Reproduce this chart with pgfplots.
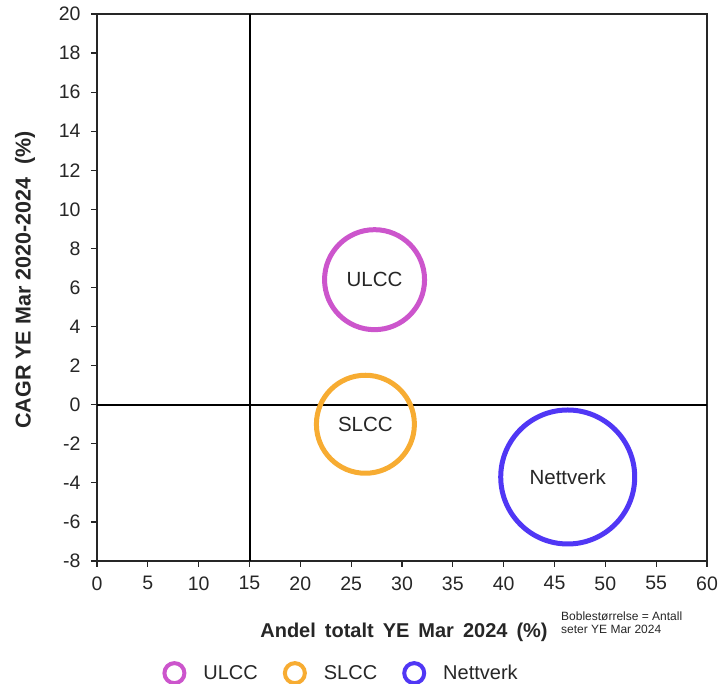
\documentclass[border=0pt]{standalone}
\usepackage{pgfplots}
\pgfplotsset{compat=1.18}
\usepackage{fontspec}
\setmainfont{Liberation Sans}
\definecolor{ulcc}{HTML}{CC55CC}
\definecolor{slcc}{HTML}{F7AC32}
\definecolor{nett}{HTML}{5037F5}
\definecolor{txt}{HTML}{262626}
\begin{document}
\begin{tikzpicture}[x=1pt,y=1pt]
\useasboundingbox (0,0) rectangle (722,684);
\begin{axis}[
  at={(97pt,123pt)}, anchor=south west,
  scale only axis, width=610pt, height=547pt,
  xmin=0, xmax=60, ymin=-8, ymax=20,
  xtick={0,5,...,60}, ytick={-8,-6,...,20},
  xtick pos=bottom, ytick pos=left,
  tick align=outside, major tick length=6pt,
  axis line style={line width=1.8pt, color=black!85},
  tick style={line width=1.2pt, color=black!85},
  /pgf/number format/assume math mode=true,
  tick label style={font=\fontsize{19.5}{22}\selectfont, text=txt},
  xticklabel style={yshift=-6pt},
  yticklabel style={xshift=-7pt},
  clip=false,
  legend columns=3,
  legend style={draw=none, at={(axis description cs:0.102,-0.205)}, anchor=west,
    font=\fontsize{20}{22}\selectfont, text=txt,
    /tikz/every odd column/.append style={column sep=0pt},
    /tikz/every even column/.append style={column sep=23pt}},
  legend image code/.code={\path[draw=none, fill=none] (0pt,0pt) -- (39pt,0pt); \draw[#1, line width=4pt, fill=none] (12pt,0pt) circle (10pt);},
]
\draw[line width=2pt, black] (axis cs:15,-8) -- (axis cs:15,20);
\draw[line width=1.8pt, black] (axis cs:0,0) -- (axis cs:60,0);
\addplot[only marks, mark=o, mark size=50pt, line width=5pt, color=ulcc] coordinates {(27.3,6.4)};
\addlegendentry{ULCC}
\addplot[only marks, mark=o, mark size=49pt, line width=5pt, color=slcc] coordinates {(26.4,-1.0)};
\addlegendentry{SLCC}
\addplot[only marks, mark=o, mark size=67pt, line width=5pt, color=nett] coordinates {(46.3,-3.7)};
\addlegendentry{Nettverk}
\node[font=\fontsize{20.5}{22}\selectfont, text=txt] at (axis cs:27.3,6.4) {ULCC};
\node[font=\fontsize{20.5}{22}\selectfont, text=txt] at (axis cs:26.4,-1.0) {SLCC};
\node[font=\fontsize{20.5}{22}\selectfont, text=txt] at (axis cs:46.3,-3.7) {Nettverk};
\end{axis}
\node[font=\bfseries\fontsize{20}{22}\selectfont, text=txt] at (404,52) {Andel\hspace{0.45em}totalt\hspace{0.45em}YE\hspace{0.45em}Mar\hspace{0.45em}2024\hspace{0.45em}(\%)};
\node[font=\bfseries\fontsize{21.5}{22}\selectfont, text=txt, rotate=90] at (25,404) {CAGR YE Mar 2020-2024\hspace{0.6em}(\%)};
\node[font=\fontsize{12}{13}\selectfont, text=txt, anchor=north west, align=left, inner sep=0pt] at (561,72) {Boblestørrelse = Antall\\seter YE Mar 2024};
\end{tikzpicture}
\end{document}
